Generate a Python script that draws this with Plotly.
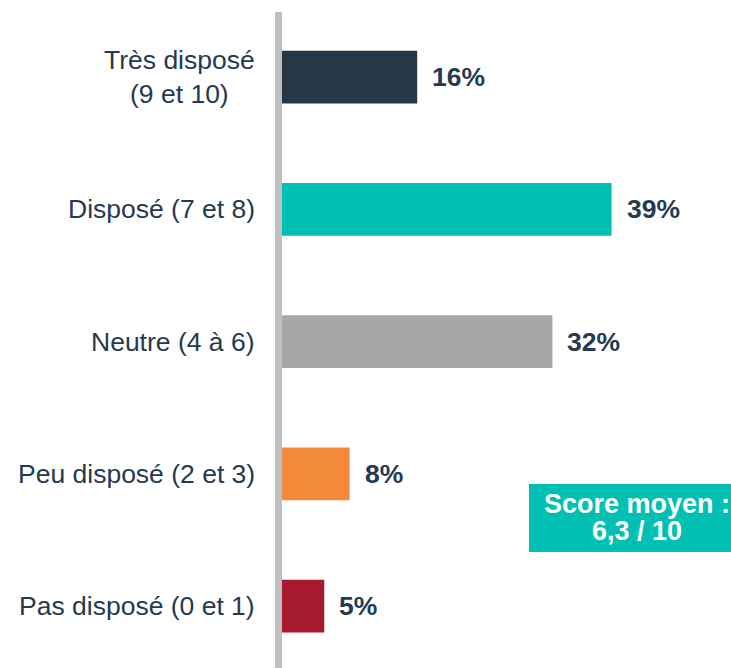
import plotly.graph_objects as go

categories = ["Très disposé<br>(9 et 10)", "Disposé (7 et 8)", "Neutre (4 à 6)",
              "Peu disposé (2 et 3)", "Pas disposé (0 et 1)"]
values = [16, 39, 32, 8, 5]
value_labels = ["16%", "39%", "32%", "8%", "5%"]
bar_colors = ["#263746", "#00BFB3", "#A6A6A6", "#F28A3A", "#A6192E"]
score_lines = ["Score moyen :", "6,3 / 10"]

FONT = "Liberation Sans, Arial, sans-serif"
TEXT_COLOR = "#263A4F"
ypos = list(range(len(categories)))

PLOT_H = 657  # plot area height in px (top at y=11)
SLOT = 132.25

fig = go.Figure()
fig.add_trace(go.Bar(
    x=values, y=ypos, orientation="h", width=0.4,
    marker=dict(color=bar_colors, line=dict(width=0)),
    hoverinfo="skip",
))

annotations = []
for i, (c, v, lab) in enumerate(zip(categories, values, value_labels)):
    annotations.append(dict(
        x=0, xref="x", y=i, yref="y", text=c, showarrow=False,
        xanchor="right", yanchor="middle", align="center", xshift=-25,
        font=dict(family=FONT, size=26.5, color=TEXT_COLOR),
    ))
    annotations.append(dict(
        x=v, xref="x", y=i, yref="y", text="<b>%s</b>" % lab, showarrow=False,
        xanchor="left", yanchor="middle", xshift=13,
        font=dict(family=FONT, size=26.5, color=TEXT_COLOR),
    ))

bottom = 11 + PLOT_H
box_cy = (bottom - 518) / PLOT_H
annotations.append(dict(
    x=0.79, xref="paper", y=box_cy, yref="paper", text="<b>%s</b>" % score_lines[0],
    showarrow=False, xanchor="center", yanchor="middle", yshift=14,
    font=dict(family=FONT, size=27, color="white"),
))
annotations.append(dict(
    x=0.79, xref="paper", y=box_cy, yref="paper", text="<b>%s</b>" % score_lines[1],
    showarrow=False, xanchor="center", yanchor="middle", yshift=-13,
    font=dict(family=FONT, size=27, color="white"),
))

shapes = [
    dict(type="rect", xref="paper", xsizemode="pixel", xanchor=0, x0=-7, x1=0,
         yref="paper", y0=0, y1=1 - 1 / PLOT_H, fillcolor="#BFBFBF", line=dict(width=0),
         layer="above"),
    dict(type="rect", xref="paper", yref="paper",
         x0=(529 - 282) / 449, x1=(745 - 282) / 449,
         y0=(bottom - 552) / PLOT_H, y1=(bottom - 484) / PLOT_H,
         fillcolor="#00BFB3", line=dict(width=0), layer="below"),
]

fig.update_layout(
    width=731, height=668,
    margin=dict(l=282, r=0, t=11, b=0),
    paper_bgcolor="white", plot_bgcolor="white",
    showlegend=False,
    xaxis=dict(range=[0, 449 / 8.45], visible=False, fixedrange=True),
    yaxis=dict(range=[-0.5 + PLOT_H / SLOT, -0.5], visible=False, fixedrange=True),
    annotations=annotations,
    shapes=shapes,
    font=dict(family=FONT),
)

fig.write_html("out.html", config={"displayModeBar": False},
               post_script="document.body.style.margin='0';document.body.style.overflow='hidden';")
